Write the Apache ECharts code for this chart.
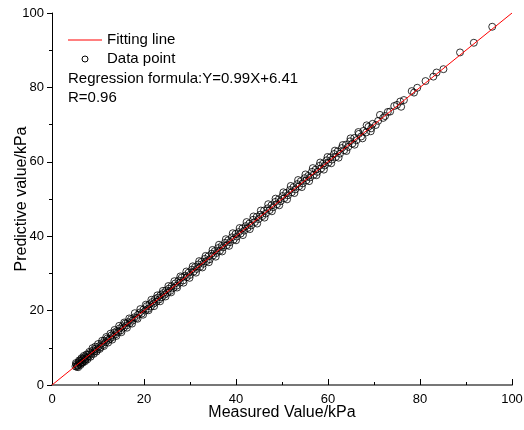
<!DOCTYPE html>
<html>
<head>
<meta charset="utf-8">
<script src="https://cdn.jsdelivr.net/npm/echarts@6/dist/echarts.min.js"></script>
<style>html,body{margin:0;padding:0;background:#fff;}#c{width:524px;height:430px;}</style>
</head>
<body>
<div id="c"></div>
<script>
const xTicks = [0, 20, 40, 60, 80, 100];
const yTicks = [0, 20, 40, 60, 80, 100];
const fitLine = [[0, 0], [100, 100]];
const legendNames = ['Fitting line', 'Data point'];
const noteLines = ['Regression formula:Y=0.99X+6.41', 'R=0.96'];
const measured = [
5.1,5.3,5.4,5.6,5.8,6.0,6.1,6.3,6.5,6.6,6.8,7.0,7.1,7.3,7.6,7.8,8.0,8.3,8.6,8.9,9.2,9.5,9.8,10.2,10.5,
10.8,11.1,11.4,11.7,12.0,12.3,12.6,12.9,13.2,13.5,13.8,14.1,14.4,14.7,15.0,15.3,15.6,15.9,16.2,16.5,16.9,17.2,17.5,17.9,18.3,18.7,19.1,19.5,19.9,20.3,
20.6,20.9,21.2,21.5,21.8,22.1,22.4,22.7,23.0,23.3,23.6,23.9,24.2,24.5,24.8,25.1,25.4,25.7,26.0,26.4,26.8,27.1,27.5,27.8,28.2,28.5,28.9,29.3,29.7,30.0,
30.4,30.8,31.1,31.5,31.8,32.2,32.5,32.9,33.2,33.6,34.0,34.3,34.7,35.0,35.4,35.8,36.1,36.5,36.9,37.2,37.6,38.0,38.3,38.7,39.1,39.5,39.9,40.2,
40.6,41.0,41.4,41.8,42.1,42.5,42.9,43.3,43.7,44.1,44.5,44.9,45.3,45.7,46.1,46.5,46.9,47.3,47.7,48.1,48.5,48.9,49.3,49.7,50.1,
50.5,50.9,51.3,51.7,52.1,52.5,52.9,53.3,53.7,54.1,54.5,54.9,55.3,55.7,56.1,56.5,56.9,57.3,57.7,58.1,58.5,58.9,59.3,59.7,
60.1,60.5,60.9,61.3,61.7,62.1,62.6,63.0,63.5,63.9,64.4,64.8,65.3,65.7,66.2,66.7,67.2,67.7,68.3,68.8,69.4,
69.7,70.4,70.9,71.3,72.0,72.4,73.0,73.5,74.4,75.0,75.7,75.9,76.5,78.2,78.7,79.4,81.2,82.9,83.6,85.1,88.7,91.7,95.7
];
const predicted = [
5.0,5.6,4.9,5.3,6.1,5.7,6.4,5.9,6.8,6.2,7.1,6.6,7.5,7.0,7.4,8.1,7.7,8.6,8.3,9.3,9.0,9.8,9.5,10.4,10.1,
11.2,10.8,11.9,11.5,12.5,12.1,12.4,13.3,12.9,14.1,13.6,14.5,14.2,15.2,14.7,15.8,15.4,16.5,16.0,16.9,16.6,17.7,17.3,18.2,18.0,18.9,19.5,19.2,20.3,20.0,
21.2,20.5,21.7,21.1,22.3,21.9,23.1,22.4,23.5,23.0,24.2,23.6,24.7,24.3,25.4,24.8,25.9,25.3,26.6,26.1,27.3,26.7,28.1,27.5,28.9,28.1,29.4,29.0,30.2,29.6,
31.0,30.5,31.7,31.2,32.4,31.8,33.1,32.6,33.9,33.3,34.6,33.8,35.3,34.8,36.0,35.5,36.8,36.1,37.4,37.0,38.2,37.6,38.9,38.4,39.7,39.1,40.6,39.9,
41.1,40.7,42.1,41.5,42.7,42.2,43.4,42.9,44.4,43.8,45.2,44.6,45.8,45.4,46.9,46.1,47.5,47.0,48.3,47.8,49.2,48.6,49.9,49.4,50.8,
50.2,51.6,51.0,52.4,51.8,53.2,52.6,54.0,53.4,54.8,54.2,55.6,55.0,56.2,55.8,57.3,56.5,57.9,57.3,58.9,58.2,59.5,59.0,60.4,
59.8,61.2,60.6,62.1,61.3,62.8,62.2,63.7,63.1,64.6,64.0,65.5,64.9,66.4,65.8,67.5,66.8,68.3,67.9,69.4,69.0,
70.2,69.9,71.0,72.6,71.8,72.3,73.4,73.5,75.0,75.3,76.2,74.8,76.6,79.0,78.6,79.9,81.7,82.9,84.0,84.9,89.4,92.0,96.3
];
const extraMeasured = [
5.2,5.5,5.7,5.9,6.2,6.4,6.7,6.9,7.2,7.5,7.7,8.1,8.4,8.8,9.1,9.4,9.7,10.0,
10.4,10.9,11.3,11.8,12.2,12.7,13.1,13.6,14.0,14.6,15.1,15.7,16.3,16.8,17.4,18.0,18.6,19.2,19.8,
20.4,21.0,21.6,22.2,22.9,23.5,24.1,24.7,25.3,25.9,26.6,27.2,27.9,28.6,29.2,29.9,
30.6,31.3,32.0,32.7,33.4,34.1,34.9,35.6,36.3,37.0,37.8,38.5,39.3,40.0,
40.8,41.5,42.3,43.0,43.8,44.6,45.4,46.2,47.0,47.8,48.6,49.4,
50.3,51.1,51.9,52.7,53.5,54.3,55.1,55.9,56.7,57.5,58.3,59.1,59.9,
60.7,61.5,62.3,63.2,64.0,64.9,65.8,66.6,67.5,68.4,69.3
];
const extraPredicted = [
5.9,5.2,4.8,6.6,5.4,7.2,6.0,7.8,6.4,8.2,6.9,8.9,7.6,9.9,8.4,10.3,9.0,11.0,
9.7,11.9,10.5,12.9,11.4,13.8,12.2,14.8,13.2,15.9,14.2,16.8,15.4,17.9,16.5,19.3,17.8,20.4,18.9,
21.6,20.1,22.9,21.2,24.1,22.5,25.3,23.8,26.6,24.9,27.9,26.2,29.2,27.5,30.5,28.8,
31.9,30.2,33.3,31.6,34.7,33.0,36.3,34.5,37.7,35.9,39.2,37.4,40.8,38.9,
42.2,40.3,43.8,41.9,45.3,43.4,46.9,45.0,48.6,46.7,50.1,48.3,
51.8,49.9,53.5,51.6,55.1,53.2,56.6,54.8,58.3,56.4,59.8,57.9,61.3,
59.6,63.0,61.1,64.5,62.9,66.3,64.6,68.0,66.3,69.8,68.2
];
const allMeasured = measured.concat(extraMeasured);
const allPredicted = predicted.concat(extraPredicted);
const points = allMeasured.map((v, i) => [v, allPredicted[i]]);

const chart = echarts.init(document.getElementById('c'));
const font = '"Liberation Sans", Arial, sans-serif';
chart.setOption({
  animation: false,
  backgroundColor: '#fff',
  grid: { left: 52, right: 12, top: 13, bottom: 45, containLabel: false, outerBoundsMode: 'none' },
  graphic: [
    { type: 'line', shape: { x1: 68, y1: 40, x2: 102, y2: 40 }, style: { stroke: '#ff0000', lineWidth: 1 } },
    { type: 'text', x: 107, y: 40, style: { text: legendNames[0], font: '15px ' + font, fill: '#000', verticalAlign: 'middle' } },
    { type: 'circle', shape: { cx: 85, cy: 59, r: 3 }, style: { fill: 'none', stroke: '#000', lineWidth: 1 } },
    { type: 'text', x: 107, y: 59, style: { text: legendNames[1], font: '15px ' + font, fill: '#000', verticalAlign: 'middle' } },
    { type: 'text', x: 68, y: 79, style: { text: noteLines[0], font: '15px ' + font, fill: '#000', verticalAlign: 'middle' } },
    { type: 'text', x: 68, y: 98, style: { text: noteLines[1], font: '15px ' + font, fill: '#000', verticalAlign: 'middle' } }
  ],
  xAxis: {
    type: 'value', min: 0, max: 100, interval: 20,
    name: 'Measured Value/kPa', nameLocation: 'middle', nameGap: 20, nameMoveOverlap: false,
    nameTextStyle: { fontFamily: font, fontSize: 16, color: '#000' },
    axisLine: { lineStyle: { color: '#777', width: 2 } },
    axisTick: { inside: true, length: 6, lineStyle: { color: '#000' } },
    minorTick: { show: true, splitNumber: 2, length: 3, lineStyle: { color: '#000' } },
    axisLabel: { fontFamily: font, fontSize: 13, color: '#000', margin: 8 },
    splitLine: { show: false }
  },
  yAxis: {
    type: 'value', min: 0, max: 100, interval: 20,
    name: 'Predictive value/kPa', nameLocation: 'middle', nameGap: 22, nameMoveOverlap: false,
    nameTextStyle: { fontFamily: font, fontSize: 16, color: '#000' },
    axisLine: { lineStyle: { color: '#000', width: 1 } },
    axisTick: { inside: false, length: 5, lineStyle: { color: '#000' } },
    minorTick: { show: true, splitNumber: 2, length: 3, lineStyle: { color: '#000' } },
    axisLabel: { fontFamily: font, fontSize: 13, color: '#000', margin: 8 },
    splitLine: { show: false }
  },
  series: [
    {
      name: 'Fitting line', type: 'line', data: fitLine,
      showSymbol: false, symbol: 'none',
      lineStyle: { color: '#ff0000', width: 1 },
      itemStyle: { color: '#ff0000' },
      z: 3
    },
    {
      name: 'Data point', type: 'scatter', data: points,
      symbol: 'circle', symbolSize: 7,
      itemStyle: { color: 'rgba(255,255,255,0)', borderColor: '#000', borderWidth: 1 },
      z: 2
    }
  ]
});
</script>
</body>
</html>
